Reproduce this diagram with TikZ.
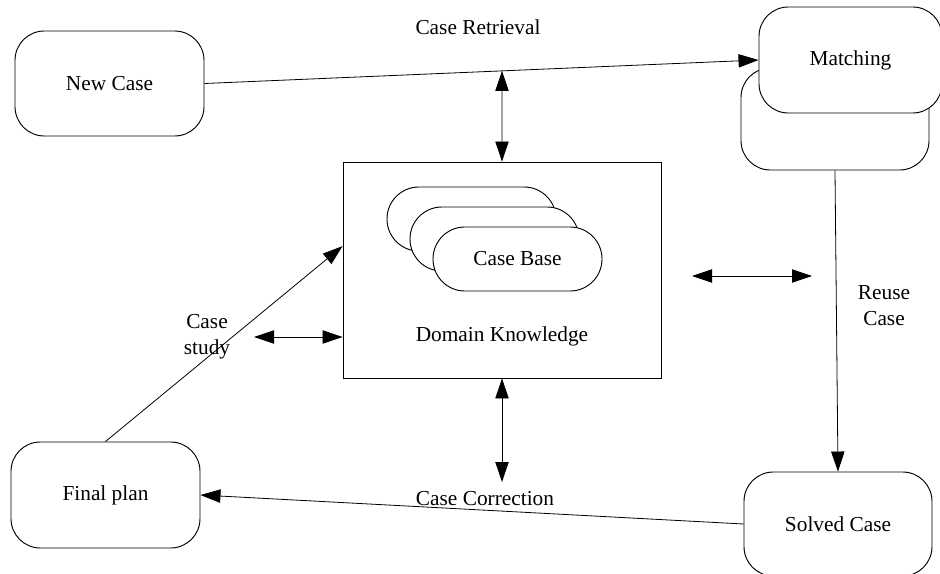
\documentclass[tikz,border=0pt]{standalone}
\usepackage{fontspec}
\setmainfont{Liberation Serif}
\usetikzlibrary{arrows.meta,calc}

\begin{document}
\begin{tikzpicture}[x=0.75pt,y=-0.75pt,
    every node/.style={font=\fontsize{16}{19.5}\selectfont},
    stage/.style={draw,fill=white,line width=0.7pt,rounded corners=22pt,inner sep=0pt},
    pill/.style={draw,fill=white,line width=0.7pt,rounded corners=23.9pt,minimum width=126.75pt,minimum height=48pt,inner sep=0pt},
    flow/.style={line width=0.6pt,-{Triangle[length=15pt,width=10pt]}},
    both/.style={line width=0.6pt,{Triangle[length=15pt,width=10pt]}-{Triangle[length=15pt,width=10pt]}}]
    \useasboundingbox (0,0) rectangle (940,574);
    \node[stage,minimum width=141.75pt,minimum height=78.75pt] (newcase) at (109.5,83.5) {New Case};
    \node[stage,minimum width=141pt,minimum height=76.5pt] (matchback) at (835,119) {};
    \node[stage,minimum width=137.25pt,minimum height=79.5pt] (matching) at (850.5,60) {Matching};
    \node[draw,line width=0.7pt,minimum width=238.5pt,minimum height=162pt,inner sep=0pt] (dk) at (502,270) {};
    \node (dklabel) at (502,336) {Domain Knowledge};
    \node[pill] (base1) at (471.5,219) {};
    \node[pill] (base2) at (494.5,239) {};
    \node[pill] (base3) at (517.5,259) {Case Base};
    \node[stage,minimum width=141.75pt,minimum height=79.5pt] (final) at (105.5,495) {Final plan};
    \node[stage,minimum width=141pt,minimum height=78pt] (solved) at (838,524) {Solved Case};

    \node (retlabel) at (478,27) {Case Retrieval};
    \node[align=center] (reuselabel) at (884,306) {Reuse\\Case};
    \node[align=center] (studylabel) at (207,337) {Case\\study};
    \node (corrlabel) at (485,499) {Case Correction};

    \draw[flow] (newcase.east) -- (matching.west);
    \coordinate (ret) at ($(newcase.east)!0.537!(matching.west)$);
    \draw[both] (ret) -- (dk.north);
    \draw[flow] (matchback.south) -- (solved.north);
    \draw[flow] (solved.west) -- (final.east);
    \draw[flow] (final.north) -- ($(dk.north west)!0.39!(dk.south west)$);
    \coordinate (corr) at (502,482);
    \draw[both] (dk.south) -- (corr);
    \coordinate (studyend) at (254,337);
    \draw[both] (studyend) -- (dk.west |- studyend);
    \coordinate (sideL) at (692,276);
    \coordinate (sideR) at (812,276);
    \draw[both] (sideL) -- (sideR);
\end{tikzpicture}
\end{document}
